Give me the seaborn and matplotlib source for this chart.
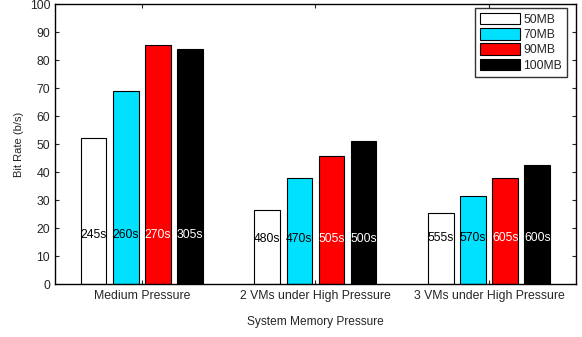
import matplotlib
matplotlib.use("Agg")
import matplotlib.pyplot as plt
import seaborn as sns
import pandas as pd

categories = ["Medium Pressure", "2 VMs under High Pressure", "3 VMs under High Pressure"]
series = ["50MB", "70MB", "90MB", "100MB"]
bitrate_50 = [52.3, 26.5, 25.3]
bitrate_70 = [69.0, 38.0, 31.3]
bitrate_90 = [85.5, 45.7, 38.0]
bitrate_100 = [84.0, 51.2, 42.6]
time_labels_50 = ["245s", "480s", "555s"]
time_labels_70 = ["260s", "470s", "570s"]
time_labels_90 = ["270s", "505s", "605s"]
time_labels_100 = ["305s", "500s", "600s"]

colors = ["#FFFFFF", "#00E1FF", "#FF0000", "#000000"]
text_colors = ["black", "black", "white", "white"]

sns.set_style("ticks")
plt.rcParams["font.family"] = ["Liberation Sans", "DejaVu Sans"]

rows = []
for s, vals in zip(series, [bitrate_50, bitrate_70, bitrate_90, bitrate_100]):
    for c, v in zip(categories, vals):
        rows.append({"cat": c, "series": s, "value": v})
df = pd.DataFrame(rows)

fig = plt.figure(figsize=(5.82, 3.37), dpi=100)
ax = fig.add_axes([0.0945, 0.157, 0.895, 0.831])

sns.barplot(data=df, x="cat", y="value", hue="series", order=categories,
            hue_order=series, palette=colors, width=0.74, gap=0.2,
            edgecolor="black", linewidth=0.8, saturation=1, ax=ax, legend=True)

all_labels = [time_labels_50, time_labels_70, time_labels_90, time_labels_100]
label_y = [17.5, 16.0, 16.5]
for i, cont in enumerate(ax.containers):
    for j, bar in enumerate(cont):
        xc = bar.get_x() + bar.get_width() / 2
        ax.text(xc, label_y[j], all_labels[i][j], ha="center", va="center",
                fontsize=8.7, color=text_colors[i])

ax.set_xlim(-0.5, 2.5)
ax.set_ylim(0, 100)
ax.set_yticks(range(0, 101, 10))
ax.tick_params(direction="in", length=3, labelsize=8.8, top=True, right=True, width=0.8)
ax.tick_params(axis="x", pad=4)
ax.set_ylabel("Bit Rate (b/s)", fontsize=8)
ax.set_xlabel("System Memory Pressure", fontsize=8.6, labelpad=10)
for sp in ax.spines.values():
    sp.set_visible(True)
    sp.set_linewidth(1.0)
    sp.set_color("black")

leg = ax.legend(loc="upper right", bbox_to_anchor=(0.983, 0.986), borderaxespad=0,
                fontsize=8.7, frameon=True, fancybox=False,
                edgecolor="black", handlelength=3.3, handleheight=1.1,
                labelspacing=0.2, handletextpad=0.3, borderpad=0.4)
leg.get_frame().set_linewidth(1.0)
leg.set_title(None)

fig.savefig("out.png", dpi=100)
